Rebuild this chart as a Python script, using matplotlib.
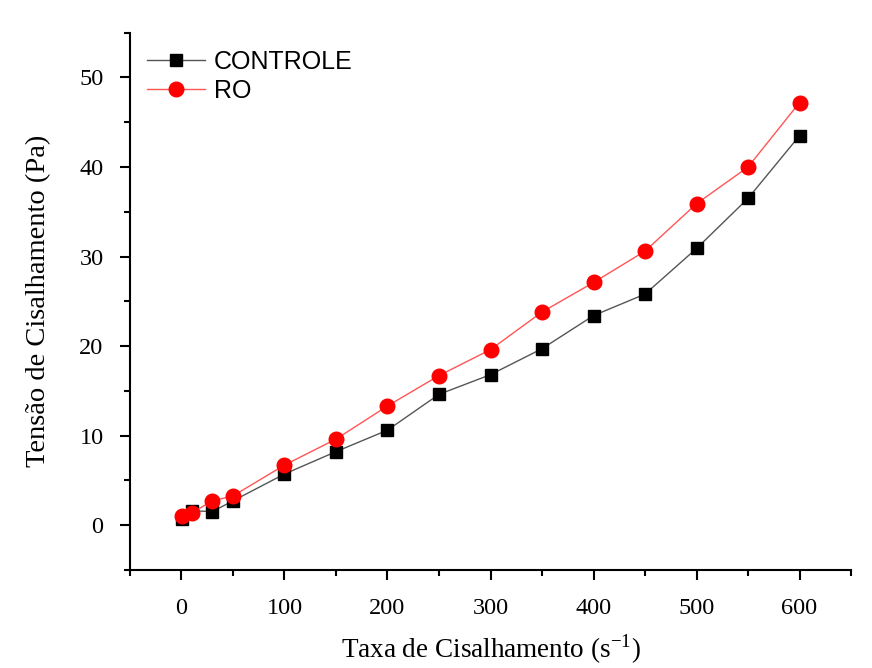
import matplotlib.pyplot as plt
from matplotlib.ticker import MultipleLocator

# taxa de cisalhamento (1/s)
taxa = [1, 10, 30, 50, 100, 150, 200, 250, 300, 350, 400, 450, 500, 550, 600]
controle = [0.7, 1.6, 1.5, 2.7, 5.7, 8.2, 10.6, 14.6, 16.8, 19.7, 23.4, 25.8, 30.9, 36.5, 43.5]
ro = [1.0, 1.35, 2.7, 3.25, 6.7, 9.6, 13.3, 16.7, 19.6, 23.8, 27.1, 30.6, 35.9, 40.0, 47.2]

serif = 'Liberation Serif'
sans = 'Liberation Sans'

plt.rcParams['mathtext.fontset'] = 'custom'
plt.rcParams['mathtext.rm'] = serif

fig = plt.figure(figsize=(8.72, 6.68), dpi=100)
ax = fig.add_axes([0.149, 0.147, 0.827, 0.804])

ax.plot(taxa, controle, color='#555555', lw=1, marker='s', ms=9,
        mfc='black', mec='black', label='CONTROLE')
ax.plot(taxa, ro, color='#ff5555', lw=1, marker='o', ms=10.5,
        mfc='red', mec='red', label='RO')

ax.set_xlim(-50, 650)
ax.set_ylim(-5, 55)
ax.xaxis.set_major_locator(MultipleLocator(100))
ax.xaxis.set_minor_locator(MultipleLocator(50))
ax.yaxis.set_major_locator(MultipleLocator(10))
ax.yaxis.set_minor_locator(MultipleLocator(5))

for s in ['top', 'right']:
    ax.spines[s].set_visible(False)
for s in ['left', 'bottom']:
    ax.spines[s].set_linewidth(1.5)

ax.tick_params(which='major', direction='out', length=7, width=1.5, labelsize=17.5)
ax.tick_params(axis='x', which='major', pad=13)
ax.tick_params(axis='y', which='major', pad=12)
ax.tick_params(which='minor', direction='out', length=4, width=1.5)
for lab in ax.get_xticklabels() + ax.get_yticklabels():
    lab.set_fontfamily(serif)

ax.set_xlabel(r'Taxa de Cisalhamento (s$^{\mathregular{-1}}$)', fontsize=19.5,
              fontfamily=serif, labelpad=10)
ax.set_ylabel('Tensão de Cisalhamento (Pa)', fontsize=20.5, fontfamily=serif, labelpad=20)

ax.legend(loc='upper left', frameon=False, prop={'family': sans, 'size': 18},
          handlelength=2.3, handletextpad=0.35, borderaxespad=0.3, labelspacing=0.2,
          bbox_to_anchor=(0.0, 1.0))

fig.savefig('out.png')
